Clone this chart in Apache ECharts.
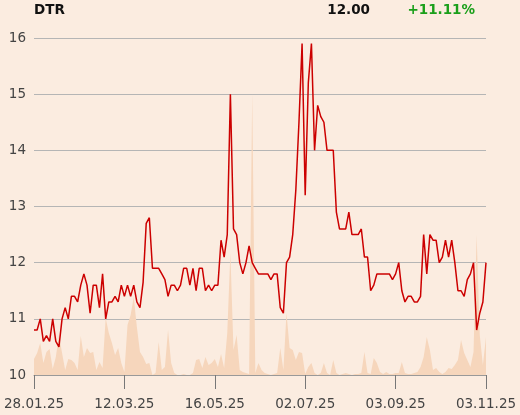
<!DOCTYPE html>
<html>
<head>
<meta charset="utf-8">
<script src="https://cdn.jsdelivr.net/npm/echarts@6/dist/echarts.min.js"></script>
<style>
html,body{margin:0;padding:0;background:#fbece0;}
#chart{width:520px;height:415px;}
</style>
</head>
<body>
<div id="chart"></div>
<script>
// Price (closing) values, 146 trading points
const prices = [
  10.8,10.8,11.0,10.6,10.7,10.6,11.0,10.6,10.5,11.0,
  11.2,11.0,11.4,11.4,11.3,11.6,11.8,11.6,11.1,11.6,
  11.6,11.2,11.8,11.0,11.3,11.3,11.4,11.3,11.6,11.4,
  11.6,11.4,11.6,11.3,11.2,11.65,12.7,12.8,11.9,11.9,
  11.9,11.8,11.7,11.4,11.6,11.6,11.5,11.6,11.9,11.9,
  11.6,11.9,11.5,11.9,11.9,11.5,11.6,11.5,11.6,11.6,
  12.4,12.1,12.5,15.0,12.6,12.5,12.0,11.8,12.0,12.3,
  12.0,11.9,11.8,11.8,11.8,11.8,11.7,11.8,11.8,11.2,
  11.1,12.0,12.1,12.5,13.3,14.5,15.9,13.2,15.2,15.9,
  14.0,14.8,14.6,14.5,14.0,14.0,14.0,12.9,12.6,12.6,
  12.6,12.9,12.5,12.5,12.5,12.6,12.1,12.1,11.5,11.6,
  11.8,11.8,11.8,11.8,11.8,11.7,11.8,12.0,11.5,11.3,
  11.4,11.4,11.3,11.3,11.4,12.5,11.8,12.5,12.4,12.4,
  12.0,12.1,12.4,12.1,12.4,12.0,11.5,11.5,11.4,11.7,
  11.8,12.0,10.8,11.1,11.3,12.0
];
// Traded volume (shares), same points
const volumes = [
  1600,2200,3200,1200,2300,2600,600,1800,4000,2200,
  500,1600,1500,1200,500,3900,1800,2700,2200,2300,
  500,1300,700,5700,4200,3200,2000,2700,1200,300,
  5000,6000,7800,4800,2300,1800,1100,1200,0,200,
  3300,500,800,4500,1200,200,0,0,100,0,
  0,200,1500,1600,700,1800,1000,1200,1600,800,
  2100,700,4200,12200,2500,4000,500,300,200,100,
  28200,200,1200,500,200,100,0,100,200,2700,
  500,6200,2700,2500,1500,2300,2200,100,800,1200,
  200,0,200,1200,200,0,1500,200,0,100,
  200,100,0,100,100,200,2300,200,100,1700,
  1200,300,100,300,100,100,200,200,1300,200,
  100,100,200,300,800,1800,3800,2500,500,700,
  300,100,300,700,600,1000,1500,3500,2200,1500,
  800,2300,14000,4000,1000,3800
];
const dates = [];
const tickLabels = ['28.01.25','12.03.25','16.05.25','02.07.25','03.09.25','03.11.25'];
const labelStep = 29;
for (let i = 0; i < prices.length; i++) {
  dates.push(i % labelStep === 0 ? tickLabels[i / labelStep] : '');
}
const ticker = 'DTR';
const lastPrice = '12.00';
const change = '+11.11%';

const chart = echarts.init(document.getElementById('chart'), null, {renderer: 'canvas'});
const font = 'DejaVu Sans';
chart.setOption({
  backgroundColor: '#fbece0',
  animation: false,
  textStyle: {fontFamily: font},
  grid: {left: 34, right: 34, top: 38, bottom: 40, containLabel: false},
  graphic: [
    {type: 'text', left: 34, top: 3, style: {text: ticker, fontFamily: font, fontWeight: 'bold', fontSize: 13.5, fill: '#111'}},
    {type: 'text', right: 150, top: 3, style: {text: lastPrice, fontFamily: font, fontWeight: 'bold', fontSize: 13.5, fill: '#111'}},
    {type: 'text', right: 45, top: 3, style: {text: change, fontFamily: font, fontWeight: 'bold', fontSize: 13.5, fill: '#1a9f1a'}}
  ],
  xAxis: {
    type: 'category',
    data: dates,
    boundaryGap: false,
    axisLine: {show: true, lineStyle: {color: '#999', width: 1}},
    axisTick: {show: true, interval: labelStep - 1, length: 14, lineStyle: {color: '#777'}},
    axisLabel: {interval: labelStep - 1, margin: 22, fontSize: 13.5, color: '#444', fontFamily: font, showMinLabel: true, showMaxLabel: true},
    splitLine: {show: false}
  },
  yAxis: [
    {
      type: 'value', min: 10, max: 16, interval: 1,
      axisLine: {show: false}, axisTick: {show: false},
      axisLabel: {margin: 8, fontSize: 13.5, color: '#444', fontFamily: font},
      splitLine: {show: true, lineStyle: {color: '#b5b5b5', width: 1}}
    },
    {
      type: 'value', min: 0, max: 33700, show: false,
      splitLine: {show: false}
    }
  ],
  series: [
    {
      type: 'line', yAxisIndex: 1, data: volumes, symbol: 'none',
      lineStyle: {width: 0},
      areaStyle: {color: '#f6d6bc', opacity: 1},
      z: 1, silent: true
    },
    {
      type: 'line', yAxisIndex: 0, data: prices, symbol: 'none',
      lineStyle: {color: '#cc0000', width: 1.5},
      z: 3, silent: true
    }
  ]
});
</script>
</body>
</html>
